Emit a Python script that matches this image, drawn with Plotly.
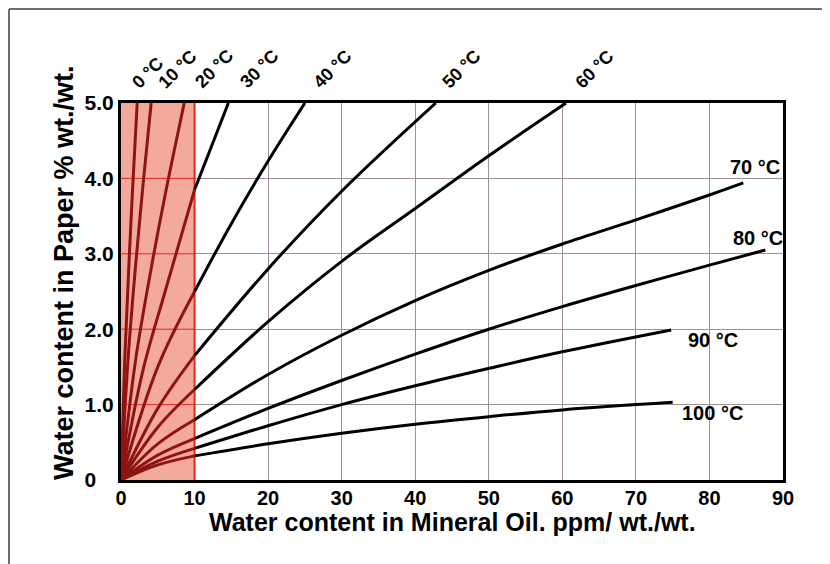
import plotly.graph_objects as go

# ---- data ----
x_ticks = [0, 10, 20, 30, 40, 50, 60, 70, 80, 90]
x_ticklabels = ["0", "10", "20", "30", "40", "50", "60", "70", "80", "90"]
y_ticks = [0, 1, 2, 3, 4, 5]
y_ticklabels = ["0\u00a0\u00a0\u00a0", "1.0", "2.0", "3.0", "4.0", "5.0"]

temps = ["0 °C", "10 °C", "20 °C", "30 °C", "40 °C", "50 °C", "60 °C", "70 °C", "80 °C", "90 °C", "100 °C"]

t0_x = [0, 0.5, 1.1, 1.6, 2.2]
t0_y = [0, 1.57, 2.91, 3.9, 5.0]
t10_x = [0, 1, 2, 3, 4.1]
t10_y = [0, 1.66, 2.86, 3.92, 5.0]
t20_x = [0, 2, 4, 6, 8.6]
t20_y = [0, 1.6, 2.75, 3.78, 5.0]
t30_x = [0, 3, 6, 10, 14.6]
t30_y = [0, 1.46, 2.5, 3.85, 5.0]
t40_x = [0, 5, 10, 15, 20, 25]
t40_y = [0, 1.5, 2.5, 3.4, 4.23, 5.0]
t50_x = [0, 5, 10, 20, 30, 42.8]
t50_y = [0, 0.95, 1.65, 2.8, 3.83, 5.0]
t60_x = [0, 5, 10, 20, 30, 40, 50, 60.5]
t60_y = [0, 0.7, 1.2, 2.1, 2.9, 3.6, 4.3, 5.0]
t70_x = [0, 5, 10, 20, 30, 40, 50, 60, 70, 80, 84.6]
t70_y = [0, 0.48, 0.8, 1.4, 1.92, 2.38, 2.78, 3.13, 3.45, 3.78, 3.94]
t80_x = [0, 5, 10, 20, 30, 40, 50, 60, 70, 80, 87.6]
t80_y = [0, 0.33, 0.55, 0.95, 1.32, 1.67, 2.0, 2.3, 2.58, 2.85, 3.05]
t90_x = [0, 5, 10, 20, 30, 40, 50, 60, 74.8]
t90_y = [0, 0.25, 0.42, 0.72, 1.0, 1.25, 1.48, 1.7, 1.99]
t100_x = [0, 5, 10, 20, 30, 40, 50, 60, 75]
t100_y = [0, 0.2, 0.32, 0.48, 0.62, 0.74, 0.84, 0.93, 1.03]

curves_x = [t0_x, t10_x, t20_x, t30_x, t40_x, t50_x, t60_x, t70_x, t80_x, t90_x, t100_x]
curves_y = [t0_y, t10_y, t20_y, t30_y, t40_y, t50_y, t60_y, t70_y, t80_y, t90_y, t100_y]

zone_limit = 10  # shaded zone upper bound (ppm)

# ---- styles ----
FONT = "Arial, 'Liberation Sans', sans-serif"
DARK_RED = "#8e1414"
ZONE_FILL = "#f4a99d"
ZONE_EDGE = "#e0291d"
GRID = "#a09090"

fig = go.Figure()

for cx, cy in zip(curves_x, curves_y):
    inner = [(a, b) for a, b in zip(cx, cy) if a <= zone_limit]
    outer = [(a, b) for a, b in zip(cx, cy) if a >= zone_limit]
    if len(outer) > 1:
        fig.add_trace(go.Scatter(x=[p[0] for p in outer], y=[p[1] for p in outer],
                                 mode="lines", line=dict(color="black", width=3, shape="spline"),
                                 hoverinfo="skip", showlegend=False))
    fig.add_trace(go.Scatter(x=[p[0] for p in inner], y=[p[1] for p in inner],
                             mode="lines", line=dict(color=DARK_RED, width=3, shape="spline"),
                             hoverinfo="skip", showlegend=False))

shapes = [
    dict(type="rect", xref="x", yref="y", x0=0, x1=zone_limit, y0=0, y1=5,
         fillcolor=ZONE_FILL, line=dict(width=0), layer="between"),
]
for yt in y_ticks[1:-1]:
    shapes.append(dict(type="line", xref="x", yref="y", x0=0, x1=zone_limit, y0=yt, y1=yt,
                       line=dict(color=ZONE_EDGE, width=1), layer="between"))
shapes.append(dict(type="line", xref="x", yref="y", x0=zone_limit, x1=zone_limit, y0=0, y1=5,
                   line=dict(color=ZONE_EDGE, width=2), layer="between"))
# outer image frame (top and left)
shapes.append(dict(type="line", xref="paper", yref="paper", x0=-0.1692, x1=1.09, y0=1.2493, y1=1.2493,
                   line=dict(color="#6e6e6e", width=2)))
shapes.append(dict(type="line", xref="paper", yref="paper", x0=-0.1692, x1=-0.1692, y0=1.2493, y1=-0.25,
                   line=dict(color="#6e6e6e", width=2)))

annotations = []
# labels at top of the curves (rotated)
top_shift = [-12, 1, 4, 5, 2, 0, 3]
for i in range(7):
    annotations.append(dict(x=curves_x[i][-1], y=curves_y[i][-1], xref="x", yref="y",
                            text=temps[i], showarrow=False, textangle=-45,
                            xanchor="left", yanchor="bottom", xshift=top_shift[i], yshift=8,
                            font=dict(family=FONT, size=18, color="black", weight="bold")))
# labels at right ends
right_pos = [(-15, 16), (-34, 12), (15, -10), (7, -11)]
for k, i in enumerate(range(7, 11)):
    dx, dy = right_pos[k]
    annotations.append(dict(x=curves_x[i][-1], y=curves_y[i][-1], xref="x", yref="y",
                            text=temps[i], showarrow=False, xanchor="left", yanchor="middle",
                            xshift=dx, yshift=dy,
                            font=dict(family=FONT, size=20, color="black", weight="bold")))
# axis titles
annotations.append(dict(x=0.5015, y=-0.112, xref="paper", yref="paper",
                        text="Water content in Mineral Oil. ppm/ wt./wt.", showarrow=False,
                        xanchor="center", yanchor="middle",
                        font=dict(family=FONT, size=25, color="black", weight="bold")))
annotations.append(dict(x=-0.0861, y=0.549, xref="paper", yref="paper",
                        text="Water content in Paper % wt./wt.", showarrow=False, textangle=-90,
                        xanchor="center", yanchor="middle",
                        font=dict(family=FONT, size=27, color="black", weight="bold")))

fig.update_layout(
    width=830, height=564,
    margin=dict(l=113, r=55, t=95, b=92),
    paper_bgcolor="white", plot_bgcolor="white",
    shapes=shapes, annotations=annotations,
    xaxis=dict(range=[0, 90], tickvals=x_ticks, ticktext=x_ticklabels,
               showgrid=True, gridcolor=GRID, gridwidth=1,
               showline=True, linecolor="black", linewidth=3, mirror=True,
               ticks="", zeroline=False, ticklabelstandoff=-2,
               tickfont=dict(family=FONT, size=20, color="black", weight="bold")),
    yaxis=dict(range=[0, 5], tickvals=y_ticks, ticktext=y_ticklabels,
               showgrid=True, gridcolor=GRID, gridwidth=1,
               showline=True, linecolor="black", linewidth=3, mirror=True,
               ticks="", zeroline=False,
               tickfont=dict(family=FONT, size=21, color="black", weight="bold")),
)

fig.write_html("out.html")
